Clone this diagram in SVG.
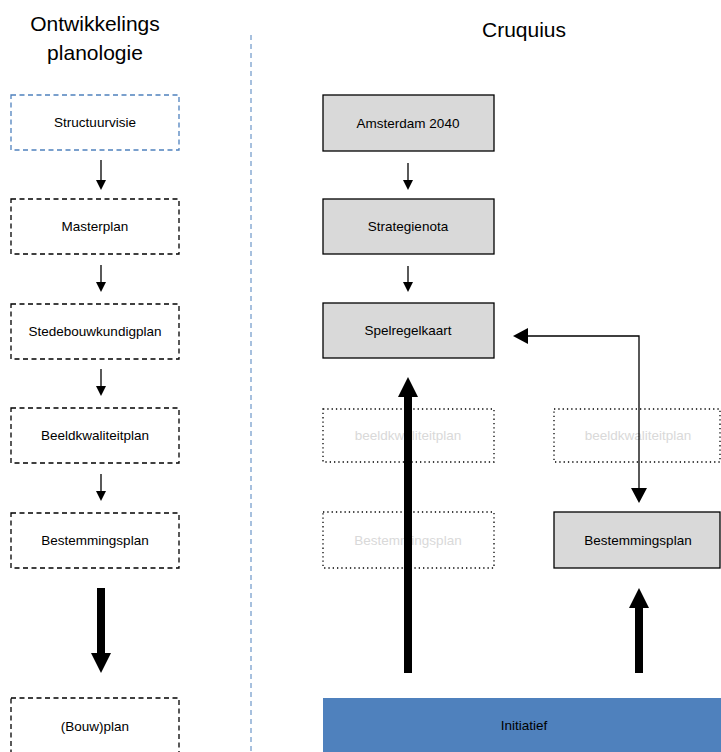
<svg xmlns="http://www.w3.org/2000/svg" width="721" height="752" viewBox="0 0 721 752">
  <style>
    text { font-family: "Liberation Sans", Arial, sans-serif; font-size: 13.5px; fill: #000; text-anchor: middle; }
    .title { font-size: 21px; }
    .ghost { fill: #d9d9d9; }
    .dash { fill: #fff; stroke: #000; stroke-width: 1.3; stroke-dasharray: 5 3.5; }
    .dash-blue { fill: #fff; stroke: #4f81bd; stroke-width: 1.3; stroke-dasharray: 5 3.5; }
    .dot { fill: none; stroke: #000; stroke-width: 1.3; stroke-dasharray: 1.3 3; }
    .solid { fill: #d9d9d9; stroke: #000; stroke-width: 1.3; }
    .thin { stroke: #000; stroke-width: 1.3; fill: none; }
    .head { fill: #000; }
  </style>

  <!-- column titles -->
  <text class="title" x="95" y="31">Ontwikkelings</text>
  <text class="title" x="95" y="60">planologie</text>
  <text class="title" x="524" y="37">Cruquius</text>

  <!-- column divider -->
  <line x1="251" y1="35" x2="251" y2="752" stroke="#4f81bd" stroke-width="1" stroke-dasharray="5 4"/>

  <!-- left column -->
  <g id="structuurvisie">
    <rect class="dash-blue" x="11" y="95" width="168" height="55"/>
    <text x="95" y="127">Structuurvisie</text>
  </g>
  <g id="masterplan">
    <rect class="dash" x="11" y="199" width="168" height="55"/>
    <text x="95" y="231">Masterplan</text>
  </g>
  <g id="stedebouwkundigplan">
    <rect class="dash" x="11" y="304" width="168" height="55"/>
    <text x="95" y="336">Stedebouwkundigplan</text>
  </g>
  <g id="beeldkwaliteitplan">
    <rect class="dash" x="11" y="408" width="168" height="55"/>
    <text x="95" y="440">Beeldkwaliteitplan</text>
  </g>
  <g id="bestemmingsplan-left">
    <rect class="dash" x="11" y="513" width="168" height="55"/>
    <text x="95" y="545">Bestemmingsplan</text>
  </g>
  <g id="bouwplan">
    <rect class="dash" x="11" y="698" width="168" height="60"/>
    <text x="95" y="731">(Bouw)plan</text>
  </g>

  <!-- right column -->
  <g id="amsterdam2040">
    <rect class="solid" x="323" y="95" width="171" height="56"/>
    <text x="408" y="128">Amsterdam 2040</text>
  </g>
  <g id="strategienota">
    <rect class="solid" x="323" y="199" width="171" height="55"/>
    <text x="408" y="231">Strategienota</text>
  </g>
  <g id="spelregelkaart">
    <rect class="solid" x="323" y="303" width="171" height="55"/>
    <text x="408" y="335">Spelregelkaart</text>
  </g>
  <g id="beeldkwaliteitplan-1">
    <rect class="dot" x="323" y="409" width="171" height="53"/>
    <text class="ghost" x="408" y="440">beeldkwaliteitplan</text>
  </g>
  <g id="bestemmingsplan-1">
    <rect class="dot" x="323" y="512" width="171" height="56"/>
    <text class="ghost" x="408" y="545">Bestemmingsplan</text>
  </g>
  <g id="beeldkwaliteitplan-2">
    <rect class="dot" x="554" y="409" width="166" height="53"/>
    <text class="ghost" x="638" y="440">beeldkwaliteitplan</text>
  </g>
  <g id="bestemmingsplan-2">
    <rect class="solid" x="554" y="512" width="166" height="56"/>
    <text x="638" y="545">Bestemmingsplan</text>
  </g>
  <g id="initiatief">
    <rect x="323" y="698" width="398" height="54" fill="#4f81bd"/>
    <text x="524" y="730">Initiatief</text>
  </g>

  <!-- connectors -->
  <g id="connectors">
    <!-- left column, thin arrows -->
    <line class="thin" x1="101" y1="160" x2="101" y2="181"/>
    <polygon class="head" points="96,180 106,180 101,190"/>
    <line class="thin" x1="101" y1="265" x2="101" y2="283"/>
    <polygon class="head" points="96,282 106,282 101,292"/>
    <line class="thin" x1="101" y1="369" x2="101" y2="387"/>
    <polygon class="head" points="96,386 106,386 101,396"/>
    <line class="thin" x1="101" y1="474" x2="101" y2="492"/>
    <polygon class="head" points="96,491 106,491 101,501"/>
    <!-- left column, thick arrow -->
    <rect class="head" x="97" y="588" width="8" height="66"/>
    <polygon class="head" points="91,653 111,653 101,673"/>

    <!-- right column, thin arrows -->
    <line class="thin" x1="408" y1="163" x2="408" y2="181"/>
    <polygon class="head" points="403,180 413,180 408,190"/>
    <line class="thin" x1="408" y1="266" x2="408" y2="283"/>
    <polygon class="head" points="403,282 413,282 408,292"/>

    <!-- feedback loop between Spelregelkaart and Bestemmingsplan -->
    <polyline class="thin" points="528,336 639,336 639,489"/>
    <polygon class="head" points="513,336 528,328 528,344"/>
    <polygon class="head" points="631,488 647,488 639,503"/>

    <!-- thick arrows from Initiatief -->
    <rect class="head" x="404" y="396" width="8" height="277"/>
    <polygon class="head" points="398,397 418,397 408,377"/>
    <rect class="head" x="635" y="607" width="8" height="66"/>
    <polygon class="head" points="629,608 649,608 639,588"/>
  </g>
</svg>
